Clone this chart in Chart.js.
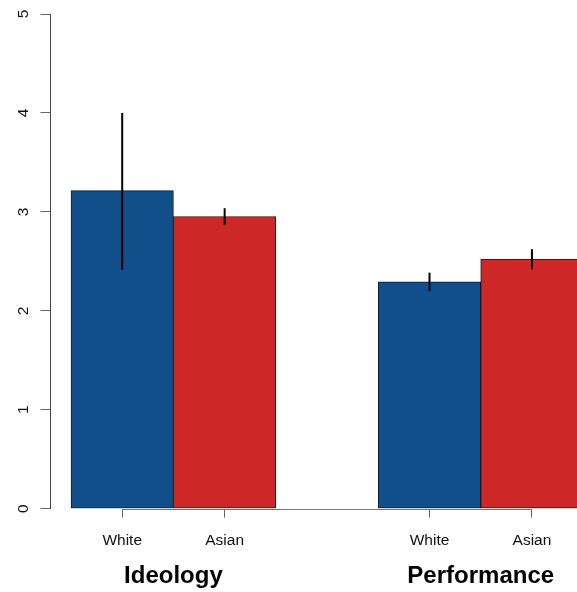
<!DOCTYPE html>
<html>
<head>
<meta charset="utf-8">
<script src="https://cdn.jsdelivr.net/npm/chart.js@4/dist/chart.umd.min.js"></script>
<style>
  html, body { margin: 0; padding: 0; background: #fff; overflow: hidden; }
  #wrap { position: relative; width: 577px; height: 592px; }
</style>
</head>
<body>
<div id="wrap"><canvas id="c" width="577" height="592"></canvas></div>
<script>
// Group names and bar labels
const groups = ["Ideology", "Performance"];
const races = ["White", "Asian"];

// Bar positions on the x axis (unit-wide bars, one-unit gap between groups)
const whiteX = [1.5, 4.5];
const asianX = [2.5, 5.5];
const groupX = [2, 5];

// Mean scores
const whiteMeans = [3.215, 2.292];
const asianMeans = [2.953, 2.522];

// Error bar ends
const whiteLow  = [2.417, 2.198];
const whiteHigh = [4.000, 2.386];
const asianLow  = [2.869, 2.420];
const asianHigh = [3.037, 2.623];

// Y axis ticks
const yTicks = [0, 1, 2, 3, 4, 5];

const xTicks = [whiteX[0], asianX[0], whiteX[1], asianX[1]];
const xTickLabels = [races[0], races[1], races[0], races[1]];

const FONT = "'Liberation Sans', Arial, Helvetica, sans-serif";
const X_AXIS_H = 42;

const errorBars = {
  id: 'errorBars',
  afterDatasetsDraw(chart) {
    const ctx = chart.ctx;
    const y = chart.scales.y;
    const ends = [[whiteLow, whiteHigh], [asianLow, asianHigh]];
    ctx.save();
    ctx.strokeStyle = '#000';
    ctx.lineWidth = 2;
    chart.data.datasets.forEach((ds, di) => {
      const meta = chart.getDatasetMeta(di);
      meta.data.forEach((bar, i) => {
        ctx.beginPath();
        ctx.moveTo(bar.x, y.getPixelForValue(ends[di][0][i]));
        ctx.lineTo(bar.x, y.getPixelForValue(ends[di][1][i]));
        ctx.stroke();
      });
    });
    ctx.restore();
  }
};

// Axis line along the bottom, running between the first and last tick
const xAxisLine = {
  id: 'xAxisLine',
  afterDraw(chart) {
    const x = chart.scales.x;
    const ctx = chart.ctx;
    const yy = Math.round(x.top) + 0.5;
    ctx.save();
    ctx.strokeStyle = '#777';
    ctx.lineWidth = 1;
    ctx.beginPath();
    ctx.moveTo(x.getPixelForValue(xTicks[0]), yy);
    ctx.lineTo(x.getPixelForValue(xTicks[xTicks.length - 1]), yy);
    ctx.stroke();
    ctx.restore();
  }
};

new Chart(document.getElementById('c'), {
  type: 'bar',
  data: {
    datasets: [
      {
        label: races[0],
        data: whiteX.map((x, i) => ({ x: x, y: whiteMeans[i] })),
        backgroundColor: '#114f8b',
        borderColor: '#1a1a1a',
        borderWidth: 1,
        borderSkipped: false
      },
      {
        label: races[1],
        data: asianX.map((x, i) => ({ x: x, y: asianMeans[i] })),
        backgroundColor: '#cd2727',
        borderColor: '#1a1a1a',
        borderWidth: 1,
        borderSkipped: false
      }
    ]
  },
  options: {
    responsive: false,
    animation: false,
    grouped: false,
    categoryPercentage: 1,
    barPercentage: 1,
    layout: { padding: { top: 14, left: 0, right: 0, bottom: 0 } },
    plugins: { legend: { display: false }, tooltip: { enabled: false } },
    scales: {
      x: {
        type: 'linear',
        position: 'bottom',
        min: 0.8,
        max: 5.94,
        offset: false,
        afterBuildTicks(scale) { scale.ticks = xTicks.map(v => ({ value: v })); },
        afterFit(scale) { scale.height = X_AXIS_H; scale.paddingLeft = 0; scale.paddingRight = 0; },
        ticks: {
          autoSkip: false,
          maxRotation: 0,
          padding: 14,
          color: '#111',
          font: { family: FONT, size: 15.5 },
          callback: (v, i) => xTickLabels[i]
        },
        grid: { display: true, offset: false, drawOnChartArea: false, drawTicks: true, tickLength: 9, tickColor: '#666', lineWidth: 1 },
        border: { display: false }
      },
      xg: {
        type: 'linear',
        position: 'bottom',
        min: 0.8,
        max: 5.94,
        offset: false,
        afterBuildTicks(scale) { scale.ticks = groupX.map(v => ({ value: v })); },
        afterFit(scale) { scale.height = 592 - 508.7 - X_AXIS_H; scale.paddingLeft = 0; scale.paddingRight = 0; },
        ticks: {
          autoSkip: false,
          maxRotation: 0,
          padding: 3,
          color: '#000',
          font: { family: FONT, size: 24, weight: 'bold' },
          callback: (v, i) => groups[i]
        },
        grid: { display: false, offset: false },
        border: { display: false }
      },
      y: {
        type: 'linear',
        position: 'left',
        min: 0,
        max: 5,
        afterBuildTicks(scale) { scale.ticks = yTicks.map(v => ({ value: v })); },
        afterFit(scale) { scale.width = 50.5; scale.paddingTop = 0; scale.paddingBottom = 0; },
        ticks: {
          minRotation: 90,
          maxRotation: 90,
          crossAlign: 'center',
          padding: 12,
          color: '#111',
          font: { family: FONT, size: 15.5 },
          callback: (v) => String(v)
        },
        grid: { drawOnChartArea: false, drawTicks: true, tickLength: 10, tickColor: '#666', lineWidth: 1 },
        border: { display: true, color: '#444', width: 1 }
      }
    }
  },
  plugins: [errorBars, xAxisLine]
});
</script>
</body>
</html>
